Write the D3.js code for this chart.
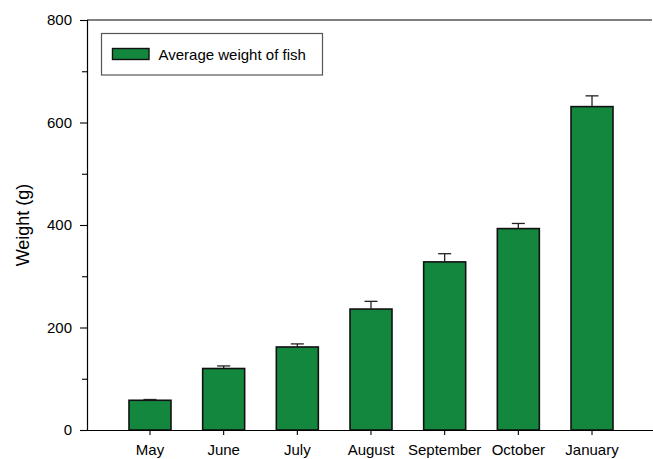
<!DOCTYPE html>
<html>
<head>
<meta charset="utf-8">
<script src="https://cdn.jsdelivr.net/npm/d3@7"></script>
<style>
  html, body { margin: 0; padding: 0; background: #fff; }
  svg { display: block; font-family: Arial, "Liberation Sans", sans-serif; }
</style>
</head>
<body>
<svg id="chart" width="653" height="459"></svg>
<script>
// Monthly average fish weight with standard error
const months = ["May", "June", "July", "August", "September", "October", "January"];
const meanWeight = [58, 120, 162, 236, 328, 393, 631];
const errorWeight = [1.5, 5, 6, 15, 16, 10, 21];
const yMajorTicks = [0, 200, 400, 600, 800];
const yMinorTicks = [100, 300, 500, 700];
const seriesName = "Average weight of fish";
const yTitle = "Weight (g)";

const rows = months.map((m, i) => ({ month: m, mean: meanWeight[i], err: errorWeight[i] }));

const svg = d3.select("#chart");
const plotLeft = 87, plotRight = 652, plotTop = 20, plotBottom = 430;
const barFill = "#14873f";

const x = d3.scaleBand()
  .domain(months)
  .range([plotLeft, 655])
  .paddingInner(0.43)
  .paddingOuter(0.57);

const y = d3.scaleLinear().domain([0, 800]).range([plotBottom, plotTop]);

// top frame line
svg.append("line")
  .attr("x1", plotLeft).attr("x2", plotRight)
  .attr("y1", y(800)).attr("y2", y(800))
  .attr("stroke", "#000").attr("stroke-width", 1.2);

// bars
svg.append("g").selectAll("rect")
  .data(rows)
  .join("rect")
  .attr("x", d => x(d.month))
  .attr("y", d => y(d.mean))
  .attr("width", x.bandwidth())
  .attr("height", d => y(0) - y(d.mean))
  .attr("fill", barFill)
  .attr("stroke", "#111")
  .attr("stroke-width", 1.6);

// upper error bars
const eb = svg.append("g").attr("stroke", "#222").attr("stroke-width", 1.3);
eb.selectAll("line.v")
  .data(rows)
  .join("line")
  .attr("class", "v")
  .attr("x1", d => x(d.month) + x.bandwidth() / 2)
  .attr("x2", d => x(d.month) + x.bandwidth() / 2)
  .attr("y1", d => y(d.mean))
  .attr("y2", d => y(d.mean + d.err));
eb.selectAll("line.cap")
  .data(rows)
  .join("line")
  .attr("class", "cap")
  .attr("x1", d => x(d.month) + x.bandwidth() / 2 - 6.5)
  .attr("x2", d => x(d.month) + x.bandwidth() / 2 + 6.5)
  .attr("y1", d => y(d.mean + d.err))
  .attr("y2", d => y(d.mean + d.err));

// y axis: major ticks with labels, minor ticks without
const yAxis = svg.append("g")
  .attr("transform", `translate(${plotLeft},0)`)
  .call(d3.axisLeft(y).tickValues(yMajorTicks).tickSize(7).tickPadding(8).tickFormat(d3.format("d")));
yAxis.select(".domain").attr("stroke-width", 1.2);
yAxis.selectAll(".tick line").attr("stroke-width", 1.1);
yAxis.selectAll("text").attr("font-size", 15).attr("fill", "#000")
  .attr("font-family", "Arial, 'Liberation Sans', sans-serif");

svg.append("g")
  .attr("transform", `translate(${plotLeft},0)`)
  .call(d3.axisLeft(y).tickValues(yMinorTicks).tickSize(5).tickFormat(""))
  .call(g => g.select(".domain").remove())
  .selectAll(".tick line").attr("stroke-width", 1.1);

// x axis
const xAxis = svg.append("g")
  .attr("transform", `translate(0,${plotBottom})`)
  .call(d3.axisBottom(x).tickSize(5).tickPadding(9.5).tickSizeOuter(0));
xAxis.select(".domain").attr("stroke-width", 1.2);
xAxis.selectAll(".tick line").attr("stroke-width", 1.1);
xAxis.selectAll("text").attr("font-size", 15).attr("fill", "#000")
  .attr("font-family", "Arial, 'Liberation Sans', sans-serif");

// y axis title
svg.append("text")
  .attr("transform", `translate(29,${(plotTop + plotBottom) / 2}) rotate(-90)`)
  .attr("text-anchor", "middle")
  .attr("font-size", 18)
  .attr("fill", "#000")
  .text(yTitle);

// legend
const lg = svg.append("g");
lg.append("rect")
  .attr("x", 101.5).attr("y", 33.5)
  .attr("width", 221).attr("height", 41.5)
  .attr("fill", "#fff").attr("stroke", "#555").attr("stroke-width", 1.2);
lg.append("rect")
  .attr("x", 112.5).attr("y", 48.5)
  .attr("width", 36.5).attr("height", 11)
  .attr("fill", barFill).attr("stroke", "#111").attr("stroke-width", 1.4);
lg.append("text")
  .attr("x", 158.5).attr("y", 59.5)
  .attr("font-size", 15)
  .attr("fill", "#000")
  .text(seriesName);
</script>
</body>
</html>
